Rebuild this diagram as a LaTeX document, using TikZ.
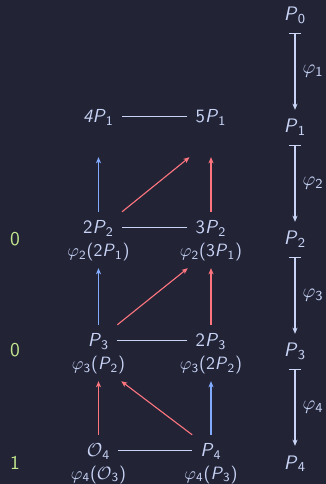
\documentclass[tikz,border=0pt]{standalone}
\usetikzlibrary{arrows.meta,calc}
\definecolor{bgc}{HTML}{222436}
\definecolor{fgc}{HTML}{C8D3F5}
\definecolor{bluec}{HTML}{82AAFF}
\definecolor{redc}{HTML}{FF757F}
\definecolor{greenc}{HTML}{C3E88D}
\newcommand\sP{\textit{P}}
\newcommand\sbs[1]{$_{\mathsf{#1}}$}
\newcommand\vphi[1]{$\varphi_{\mathsf{#1}}$}
\newcommand\cO{$\mathcal{O}$}
\newcommand\mtxt[1]{\scalebox{1.88}{#1}}
\newcommand\ltxt[1]{\scalebox{1.78}{#1}}
\newcommand\rtxt[1]{\scalebox{1.95}{#1}}
\begin{document}
\begin{tikzpicture}[x=1pt,y=1pt,
  every node/.style={font=\sffamily\normalsize, text=fgc},
  mainnode/.style={anchor=base, inner xsep=8pt, inner ysep=0pt, text height=22pt, text depth=9pt},
  labnode/.style={anchor=base, inner sep=0pt, text height=13pt, text depth=11pt},
  rnode/.style={anchor=base, inner sep=0pt, text height=23pt, text depth=12pt},
  numnode/.style={anchor=base, text=greenc, inner sep=0pt},
  link/.style={draw=fgc, line width=1.1pt},
  tipped/.style={-{Stealth[length=6pt,width=5pt,inset=1.5pt]}, line width=1.1pt},
  blu/.style={tipped, draw=bluec},
  rd/.style={tipped, draw=redc},
  mapsto/.style={{Bar[width=12pt]}-{Stealth[length=6pt,width=5pt,inset=1.5pt]}, draw=fgc, line width=1.1pt},
  maplab/.style={anchor=west, inner sep=0pt, xshift=7pt}
]
\fill[bgc] (0,0) rectangle (326,484);
\useasboundingbox (0,0) rectangle (326,484);

% grid main nodes
\node[mainnode] (m11) at (98.5,361) {\mtxt{\textit{4P}\sbs{1}}};
\node[mainnode] (m12) at (211,361) {\mtxt{5\sP\sbs{1}}};
\node[mainnode] (m21) at (98.5,250) {\mtxt{2\sP\sbs{2}}};
\node[mainnode] (m22) at (211,250) {\mtxt{3\sP\sbs{2}}};
\node[mainnode] (m31) at (98.5,137) {\mtxt{\sP\sbs{3}}};
\node[mainnode] (m32) at (211,137) {\mtxt{2\sP\sbs{3}}};
\node[mainnode] (m41) at (98.5,27) {\mtxt{\cO\sbs{4}}};
\node[mainnode] (m42) at (211,27) {\mtxt{\sP\sbs{4}}};

% labels
\node[labnode] (l21) at (98.5,227) {\ltxt{\vphi{2}(2\sP\sbs{1})}};
\node[labnode] (l22) at (211,227) {\ltxt{\vphi{2}(3\sP\sbs{1})}};
\node[labnode] (l31) at (98.5,114) {\ltxt{\vphi{3}(\sP\sbs{2})}};
\node[labnode] (l32) at (211,114) {\ltxt{\vphi{3}(2\sP\sbs{2})}};
\node[labnode] (l41) at (98.5,5) {\ltxt{\vphi{4}(\cO\sbs{3})}};
\node[labnode] (l42) at (211,5) {\ltxt{\vphi{4}(\sP\sbs{3})}};

% horizontal links
\draw[link] (m11) -- (m12);
\draw[link] (m21) -- (m22);
\draw[link] (m31) -- (m32);
\draw[link] (m41) -- (m42);

% row 2 -> row 1
\draw[blu, shorten >=25pt] (m21.north) -- (m11.south);
\draw[rd, shorten >=25pt] (m22.north) -- (m12.south);
\draw[rd] (m21.north east) -- ($(m12.south west)+(2,-25)$);

% row 3 -> row 2
\draw[blu] (m31.north) -- (l21.south);
\draw[rd] (m32.north) -- (l22.south);
\draw[rd] (m31.north east) -- ($(l22.south west)+(8,0)$);

% row 4 -> row 3
\draw[rd] (m41.north) -- (l31.south);
\draw[blu] (m42.north) -- (l32.south);
\draw[rd] (m42.north west) -- ($(l31.south east)+(-4,0)$);

% right column
\node[rnode] (p0) at (295,463) {\rtxt{\sP\sbs{0}}};
\node[rnode] (p1) at (295,351) {\rtxt{\sP\sbs{1}}};
\node[rnode] (p2) at (295,239) {\rtxt{\sP\sbs{2}}};
\node[rnode] (p3) at (295,127) {\rtxt{\sP\sbs{3}}};
\node[rnode] (p4) at (295,15) {\rtxt{\sP\sbs{4}}};
\draw[mapsto] (p0) -- node[maplab] {\rtxt{\vphi{1}}} (p1);
\draw[mapsto] (p1) -- node[maplab] {\rtxt{\vphi{2}}} (p2);
\draw[mapsto] (p2) -- node[maplab] {\rtxt{\vphi{3}}} (p3);
\draw[mapsto] (p3) -- node[maplab] {\rtxt{\vphi{4}}} (p4);

% green numbers
\node[numnode] (n2) at (15,238) {\rtxt{0}};
\node[numnode] (n3) at (15,127) {\rtxt{0}};
\node[numnode] (n4) at (15,15) {\rtxt{1}};
\end{tikzpicture}
\end{document}
